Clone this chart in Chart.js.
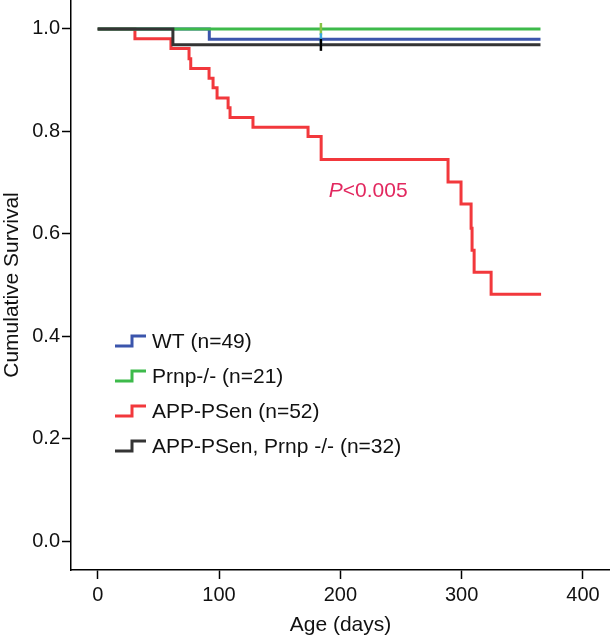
<!DOCTYPE html>
<html>
<head>
<meta charset="utf-8">
<script src="https://cdn.jsdelivr.net/npm/chart.js@4/dist/chart.umd.min.js"></script>
<style>
  html, body { margin: 0; padding: 0; background: #fff; }
  #wrap { width: 610px; height: 640px; position: relative; }
</style>
</head>
<body>
<div id="wrap"><canvas id="c" width="610" height="640"></canvas></div>
<script>
// ---- data ----
const seriesNames = ['WT (n=49)', 'Prnp-/- (n=21)', 'APP-PSen (n=52)', 'APP-PSen, Prnp -/- (n=32)'];
const seriesColors = ['#3B55AC', '#3DBA4B', '#F2383C', '#343434'];
const censorColors = ['#3AA6DE', '#86C446', '#F2383C', '#000000'];

const wtDays   = [0, 92, 365];
const wtSurv   = [1.0, 0.980, 0.980];
const prnpDays = [0, 365];
const prnpSurv = [1.0, 1.0];
const appDays  = [0, 30.7, 60.4, 75.3, 76.7, 91.8, 95.1, 98.4, 107.5, 109.1, 128, 173.4, 184.2, 288.8, 299.5, 307.8, 308.6, 310.3, 324.3, 365.5];
const appSurv  = [1.0, 0.981, 0.962, 0.942, 0.923, 0.904, 0.885, 0.865, 0.846, 0.827, 0.808, 0.790, 0.745, 0.701, 0.658, 0.611, 0.568, 0.525, 0.482, 0.482];
const dkoDays  = [0, 62, 365];
const dkoSurv  = [1.0, 0.969, 0.969];

const censorDay = 184;
const wtCensorSurv = 0.980;
const prnpCensorSurv = 1.0;
const dkoCensorSurv = 0.969;

const xTicks = [0, 100, 200, 300, 400];
const yTicks = [0.0, 0.2, 0.4, 0.6, 0.8, 1.0];

const pText = 'P<0.005';
const pDay = 190.5, pSurv = 0.672;

const xTitle = 'Age (days)';
const yTitle = 'Cumulative Survival';

const FONT = "'Liberation Sans', Arial, Helvetica, sans-serif";

function pts(days, surv) { return days.map((d, i) => ({ x: d, y: surv[i] })); }

function stepLine(idx, days, surv, order) {
  return {
    type: 'line', label: seriesNames[idx], data: pts(days, surv),
    borderColor: seriesColors[idx], backgroundColor: seriesColors[idx],
    borderWidth: 3, stepped: 'before', pointRadius: 0, fill: false, order: order,
    borderJoinStyle: 'miter', borderCapStyle: 'butt'
  };
}
function censor(idx, surv, order) {
  return {
    type: 'scatter', label: seriesNames[idx] + ' censored', data: [{ x: censorDay, y: surv }],
    pointStyle: 'line', rotation: 90, radius: 6, pointRadius: 6, borderWidth: 2.5,
    borderColor: censorColors[idx], backgroundColor: censorColors[idx], showLine: false, order: order
  };
}

const legendPlugin = {
  id: 'kmLegend',
  afterDraw(chart) {
    const ctx = chart.ctx;
    const xs = chart.scales.x;
    const ys = chart.scales.y;
    ctx.save();
    // legend
    const x0 = 115, rowY0 = 341, rowGap = 35;
    ctx.font = '21px ' + FONT;
    ctx.textBaseline = 'middle';
    ctx.textAlign = 'left';
    seriesNames.forEach((name, i) => {
      const y = rowY0 + i * rowGap;
      ctx.strokeStyle = seriesColors[i];
      ctx.lineWidth = 3;
      ctx.lineJoin = 'miter';
      ctx.beginPath();
      ctx.moveTo(x0, y + 5);
      ctx.lineTo(x0 + 17, y + 5);
      ctx.lineTo(x0 + 17, y - 5);
      ctx.lineTo(x0 + 31, y - 5);
      ctx.stroke();
      ctx.fillStyle = '#111';
      ctx.fillText(name, x0 + 37, y + 1);
    });
    // P value annotation
    const px = xs.getPixelForValue(pDay);
    const py = ys.getPixelForValue(pSurv);
    ctx.fillStyle = '#E2285F';
    ctx.textBaseline = 'alphabetic';
    ctx.font = 'italic 21px ' + FONT;
    const pPart = pText.slice(0, 1);
    ctx.fillText(pPart, px, py);
    const w = ctx.measureText(pPart).width;
    ctx.font = '21px ' + FONT;
    ctx.fillText(pText.slice(1), px + w, py);
    ctx.restore();
  }
};

const chart = new Chart(document.getElementById('c'), {
  type: 'line',
  data: {
    datasets: [
      stepLine(3, dkoDays, dkoSurv, 1),
      stepLine(1, prnpDays, prnpSurv, 2),
      stepLine(0, wtDays, wtSurv, 3),
      stepLine(2, appDays, appSurv, 4),
      censor(3, dkoCensorSurv, 0),
      censor(0, wtCensorSurv, 0.5),
      censor(1, prnpCensorSurv, 0.7)
    ]
  },
  options: {
    responsive: false,
    animation: false,
    devicePixelRatio: 1,
    layout: { padding: 0, autoPadding: false },
    plugins: { legend: { display: false }, tooltip: { enabled: false } },
    scales: {
      x: {
        type: 'linear', min: -22, max: 422.3,
        afterBuildTicks: s => { s.ticks = xTicks.map(v => ({ value: v })); },
        afterFit: s => { s.height = 70; s.paddingLeft = 0; s.paddingRight = 0; },
        grid: { display: true, drawOnChartArea: false, drawTicks: true, tickLength: 9, tickColor: '#000', tickWidth: 1.5 },
        border: { display: true, color: '#000', width: 1.5 },
        ticks: { color: '#111', font: { family: FONT, size: 20 }, padding: 4, maxRotation: 0, callback: v => String(v) },
        title: { display: true, text: xTitle, color: '#111', font: { family: FONT, size: 21 }, padding: { top: 0, bottom: 2 } }
      },
      y: {
        type: 'linear', min: -0.0566, max: 1.0566,
        afterBuildTicks: s => { s.ticks = yTicks.map(v => ({ value: v })); },
        afterFit: s => { s.width = 71; s.paddingTop = 0; s.paddingBottom = 0; },
        grid: { display: true, drawOnChartArea: false, drawTicks: true, tickLength: 9, tickColor: '#000', tickWidth: 1.5 },
        border: { display: true, color: '#000', width: 1.5 },
        ticks: { color: '#111', font: { family: FONT, size: 20 }, padding: 2, callback: v => Number(v).toFixed(1) },
        title: { display: true, text: yTitle, color: '#111', font: { family: FONT, size: 21 }, padding: 0 }
      }
    }
  },
  plugins: [legendPlugin]
});
</script>
</body>
</html>
